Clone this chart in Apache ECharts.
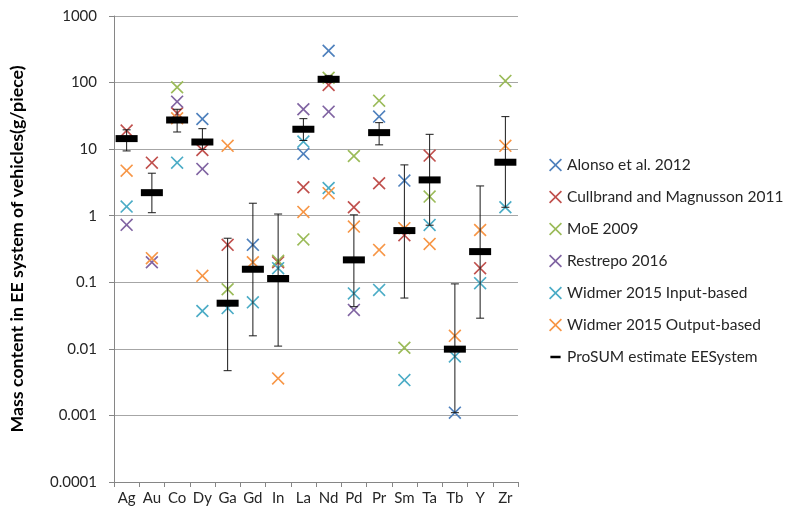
<!DOCTYPE html>
<html>
<head>
<meta charset="utf-8">
<script src="https://cdn.jsdelivr.net/npm/echarts@6/dist/echarts.min.js"></script>
<style>
  html, body { margin: 0; padding: 0; background: #fff; }
  #main { width: 786px; height: 514px; }
</style>
</head>
<body>
<div id="main"></div>
<script>
// ==============================================================
// data (g/piece), null = no value
// ==============================================================
var elements = ['Ag', 'Au', 'Co', 'Dy', 'Ga', 'Gd', 'In', 'La', 'Nd', 'Pd', 'Pr', 'Sm', 'Ta', 'Tb', 'Y', 'Zr'];
var yTickLabels = ['0.0001', '0.001', '0.01', '0.1', '1', '10', '100', '1000'];

var alonso2012    = [null, null, null, 28.4, null, 0.365, null, 8.5, 301, null, 30.8, 3.37, null, 0.0011, null, null];
var cullbrand2011 = [19, 6.27, 34.6, 9.7, 0.365, null, 0.2, 2.68, 92, 1.34, 3.07, 0.51, 8, null, 0.163, null];
var moe2009       = [null, null, 85, null, 0.0787, null, 0.21, 0.44, 118, 7.9, 53.5, 0.0104, 1.94, null, null, 106];
var restrepo2016  = [0.73, 0.2, 51.7, 5.05, null, null, null, 39.7, 36.6, 0.0385, null, null, null, null, null, null];
var widmerInput   = [1.37, null, 6.27, 0.037, 0.041, 0.05, 0.163, 13, 2.61, 0.068, 0.0769, 0.0034, 0.728, 0.0077, 0.097, 1.34];
var widmerOutput  = [4.75, 0.23, 29, 0.125, 11.2, 0.2, 0.0036, 1.14, 2.18, 0.687, 0.306, 0.65, 0.377, 0.0157, 0.61, 11.2];

var prosum     = [14.4, 2.22, 27.4, 12.8, 0.0485, 0.157, 0.114, 19.9, 112, 0.217, 17.7, 0.598, 3.45, 0.0099, 0.289, 6.36];
var prosumLow  = [9.4, 1.11, 18.1, 9.9, 0.0047, 0.0157, 0.011, 13.5, 100, 0.043, 11.6, 0.058, 0.72, 0.0011, 0.0289, 1.34];
var prosumHigh = [19.5, 4.35, 39.7, 20.3, 0.459, 1.54, 1.06, 28.7, 128, 1.03, 25, 5.8, 16.7, 0.0946, 2.8, 30.8];

var studies = [
    ['Alonso et al. 2012', alonso2012, '#4F81BD'],
    ['Cullbrand and Magnusson 2011', cullbrand2011, '#C0504D'],
    ['MoE 2009', moe2009, '#9BBB59'],
    ['Restrepo 2016', restrepo2016, '#8064A2'],
    ['Widmer 2015 Input-based', widmerInput, '#4BACC6'],
    ['Widmer 2015 Output-based', widmerOutput, '#F79646']
];

// thin "x" drawn as a filled outline so it works for legend too
var crossPath = 'path://M0,0.9L0.9,0L5,4.1L9.1,0L10,0.9L5.9,5L10,9.1L9.1,10L5,5.9L0.9,10L0,9.1L4.1,5Z';
var dashIcon = 'path://M0,0L0.01,0L0,0.01ZM1,5.6L12,5.6L12,8.4L1,8.4ZM13,14L12.99,14L13,13.99Z';

function pairs(arr) {
    var out = [];
    arr.forEach(function (v, i) { if (v != null) out.push([i, v]); });
    return out;
}

var myChart = echarts.init(document.getElementById('main'));

var series = studies.map(function (s) {
    return {
        name: s[0],
        type: 'scatter',
        symbol: crossPath,
        symbolSize: 13,
        itemStyle: { color: s[2], opacity: 1 },
        data: pairs(s[1])
    };
});

// error bars of the ProSUM estimate
series.push({
    name: 'range',
    type: 'custom',
    renderItem: function (params, api) {
        var i = api.value(0);
        var lo = api.coord([i, api.value(1)]);
        var hi = api.coord([i, api.value(2)]);
        var w = 4;
        var st = { stroke: '#1a1a1a', lineWidth: 1 };
        return {
            type: 'group',
            children: [
                { type: 'line', shape: { x1: lo[0], y1: lo[1], x2: hi[0], y2: hi[1] }, style: st },
                { type: 'line', shape: { x1: lo[0] - w, y1: lo[1], x2: lo[0] + w, y2: lo[1] }, style: st },
                { type: 'line', shape: { x1: hi[0] - w, y1: hi[1], x2: hi[0] + w, y2: hi[1] }, style: st }
            ]
        };
    },
    encode: { x: 0, y: [1, 2] },
    data: elements.map(function (e, i) { return [i, prosumLow[i], prosumHigh[i]]; }),
    z: 3
});

series.push({
    name: 'ProSUM estimate EESystem',
    type: 'scatter',
    symbol: 'rect',
    symbolSize: [22, 7],
    itemStyle: { color: '#000', opacity: 1 },
    data: pairs(prosum),
    z: 4
});

var legendNames = studies.map(function (s) { return { name: s[0], icon: crossPath }; });
legendNames.push({ name: 'ProSUM estimate EESystem', icon: dashIcon });

option = {
    animation: false,
    textStyle: { fontFamily: 'Lato' },
    grid: { left: 110, right: 268, top: 16, bottom: 32 },
    legend: {
        orient: 'vertical',
        left: 544,
        top: 152,
        itemWidth: 13,
        itemHeight: 13,
        itemGap: 16,
        textStyle: { fontFamily: 'Lato', fontSize: 15.5, color: '#262626', lineHeight: 16 },
        data: legendNames
    },
    xAxis: {
        type: 'category',
        data: elements,
        boundaryGap: true,
        axisLine: { lineStyle: { color: '#868686' } },
        axisTick: { show: true, interval: 0, length: 5, lineStyle: { color: '#868686' } },
        axisLabel: { interval: 0, fontFamily: 'Lato', fontSize: 15, color: '#262626', margin: 9 },
        splitLine: { show: false }
    },
    yAxis: {
        type: 'log',
        logBase: 10,
        min: 0.0001,
        max: 1000,
        interval: 1,
        name: 'Mass content in EE system of vehicles(g/piece)',
        nameLocation: 'middle',
        nameGap: 88,
        nameTextStyle: { fontFamily: 'Lato', fontSize: 17.8, fontWeight: 'bold', color: '#000' },
        axisLine: { show: true, lineStyle: { color: '#868686' } },
        axisTick: { show: true, length: 5, lineStyle: { color: '#868686' } },
        axisLabel: {
            fontFamily: 'Lato', fontSize: 15, color: '#262626', margin: 17,
            formatter: function (v) { return yTickLabels[Math.round(Math.log10(v)) + 4]; }
        },
        splitLine: { show: true, lineStyle: { color: '#a6a6a6', width: 1 } }
    },
    series: series
};

myChart.setOption(option, true);
</script>
</body>
</html>
